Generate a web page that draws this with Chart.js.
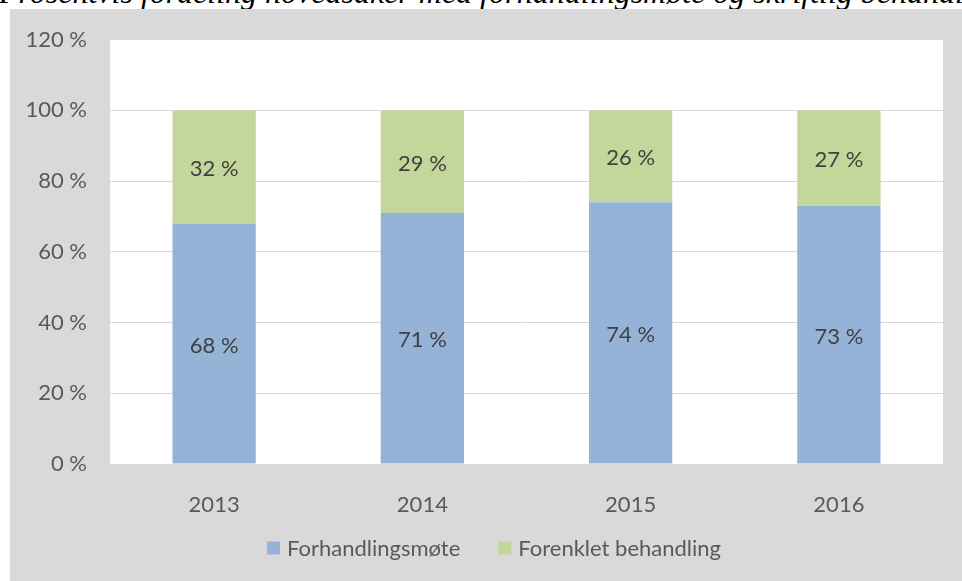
<!DOCTYPE html>
<html>
<head>
<meta charset="utf-8">
<script src="https://cdn.jsdelivr.net/npm/chart.js@4"></script>
<style>
  html, body { margin:0; padding:0; background:#fff; width:962px; height:581px; overflow:hidden; }
  #title {
    position:absolute; left:-1px; top:-24px; white-space:nowrap;
    font-family:"Liberation Serif", serif; font-style:italic; font-size:32px; line-height:32px; color:#000;
  }
  #wrap { position:absolute; left:10px; top:9px; width:952px; height:572px; background:#d9d9d9; }
</style>
</head>
<body>
<div id="title">Prosentvis fordeling hovedsaker med forhandlingsmøte og skriftlig behandling</div>
<div id="wrap"><canvas id="c" width="952" height="572"></canvas></div>
<script>
// ---- data ----
const years = ['2013', '2014', '2015', '2016'];
const forhandlingsmote = [68, 71, 74, 73];
const forenklet = [32, 29, 26, 27];
const yTicks = [0, 20, 40, 60, 80, 100, 120];

const FONT = 'Lato';
const FSIZE = 22;

// white plot area on the grey chart background
const plotBg = {
  id: 'plotBg',
  beforeDraw(chart){
    const {ctx, chartArea:a} = chart;
    ctx.save();
    ctx.fillStyle = '#fff';
    ctx.fillRect(a.left, a.top, a.right-a.left, a.bottom-a.top);
    ctx.restore();
  }
};

// value labels in the middle of each segment
const barLabels = {
  id: 'barLabels',
  afterDatasetsDraw(chart){
    const ctx = chart.ctx;
    ctx.save();
    ctx.font = FSIZE + 'px ' + FONT;
    ctx.fillStyle = '#404040';
    ctx.textAlign = 'center';
    ctx.textBaseline = 'middle';
    chart.data.datasets.forEach((ds, i)=>{
      chart.getDatasetMeta(i).data.forEach((bar, j)=>{
        ctx.fillText(ds.data[j] + ' %', bar.x, (bar.y + bar.base)/2 + 2);
      });
    });
    ctx.restore();
  }
};

// legend below the axis
const bottomLegend = {
  id: 'bottomLegend',
  afterDraw(chart){
    const ctx = chart.ctx;
    ctx.save();
    ctx.font = FSIZE + 'px ' + FONT;
    const box = 13, gap = 7, between = 38;
    const items = chart.data.datasets.map(ds => ({label: ds.label, color: ds.backgroundColor, w: ctx.measureText(ds.label).width}));
    let total = items.reduce((s, it)=> s + box + gap + it.w, 0) + between*(items.length-1);
    let x = chart.width/2 + 8 - total/2;
    const y = 539;
    ctx.textBaseline = 'middle';
    items.forEach(it=>{
      ctx.fillStyle = it.color;
      ctx.fillRect(x, y - box/2, box, box);
      ctx.fillStyle = '#595959';
      ctx.fillText(it.label, x + box + gap, y + 1);
      x += box + gap + it.w + between;
    });
    ctx.restore();
  }
};

new Chart(document.getElementById('c'), {
  type: 'bar',
  data: {
    labels: years,
    datasets: [
      { label: 'Forhandlingsmøte', data: forhandlingsmote, backgroundColor: '#95b3d7' },
      { label: 'Forenklet behandling', data: forenklet, backgroundColor: '#c4d79b' }
    ]
  },
  options: {
    responsive: false,
    animation: false,
    layout: { autoPadding: false, padding: { top: 30.6, right: 19, bottom: 57, left: 0 } },
    datasets: { bar: { barPercentage: 0.4, categoryPercentage: 1 } },
    plugins: { legend: { display: false }, tooltip: { enabled: false } },
    scales: {
      x: {
        stacked: true,
        grid: { display: false },
        border: { color: '#d9d9d9' },
        ticks: { color: '#595959', font: { family: FONT, size: FSIZE }, padding: 20 },
        afterFit(s){ s.height = 60; s.paddingLeft = 0; s.paddingRight = 0; }
      },
      y: {
        stacked: true,
        min: 0, max: 120,
        afterBuildTicks(s){ s.ticks = yTicks.map(v => ({value: v})); },
        grid: { color: '#d9d9d9', drawTicks: false },
        border: { display: false },
        ticks: { color: '#595959', font: { family: FONT, size: FSIZE }, padding: 23, callback: v => v + ' %' },
        afterFit(s){ s.width = 100; s.paddingTop = 0; s.paddingBottom = 0; }
      }
    }
  },
  plugins: [plotBg, barLabels, bottomLegend]
});
</script>
</body>
</html>
